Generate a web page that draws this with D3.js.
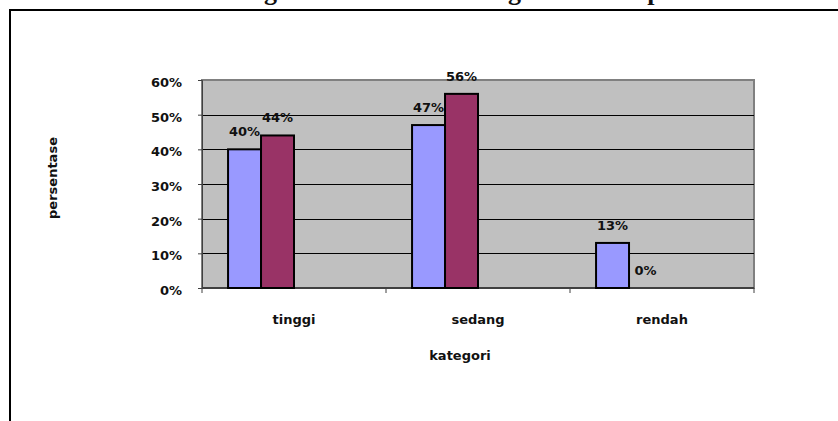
<!DOCTYPE html>
<html>
<head>
<meta charset="utf-8">
<script src="https://cdn.jsdelivr.net/npm/d3@7"></script>
<style>
  body { margin: 0; background: #fff; }
  svg { display: block; }
  text { font-family: "DejaVu Sans", sans-serif; font-weight: bold; font-size: 13px; fill: #111; }
  .title { font-family: "Liberation Serif", serif; font-size: 26px; }
</style>
</head>
<body>
<svg id="chart"></svg>
<script>
const categories = ["tinggi", "sedang", "rendah"];
const seriesA = [0.40, 0.47, 0.13];
const seriesB = [0.44, 0.56, 0.00];
const yTicks = [0, 0.1, 0.2, 0.3, 0.4, 0.5, 0.6];
const titleText = "Diagram Persentase Kategori Kemampuan";

const makeChart = () => {
    const width = 838, height = 421,
        plot = {left: 202, right: 754, top: 80, bottom: 288};

    const svg = d3.select("#chart")
        .attr("width", width)
        .attr("height", height);

    // outer chart frame, runs off the right and bottom of the picture
    svg.append("rect")
        .attr("x", 10).attr("y", 10)
        .attr("width", 1000).attr("height", 1000)
        .attr("fill", "none")
        .attr("stroke", "#000")
        .attr("stroke-width", 2);

    // title sits above the crop, only the descenders show
    svg.append("text")
        .attr("class", "title")
        .attr("x", 225)
        .attr("y", -0.5)
        .text(titleText);

    const y = d3.scaleLinear()
        .domain([0, 0.6])
        .range([plot.bottom, plot.top]);

    const x0 = d3.scaleBand()
        .domain(categories)
        .range([plot.left, plot.right]);

    // excel left room for four series per group, only two are filled
    const x1 = d3.scaleBand()
        .domain(d3.range(4))
        .range([0, x0.bandwidth()])
        .paddingOuter(0.79);

    svg.append("rect")
        .attr("x", plot.left)
        .attr("y", plot.top)
        .attr("width", plot.right - plot.left)
        .attr("height", plot.bottom - plot.top)
        .attr("fill", "#c0c0c0")
        .attr("stroke", "#808080")
        .attr("stroke-width", 2);

    svg.append("g")
        .selectAll("line")
        .data(yTicks.filter(d => d > 0 && d < 0.6))
        .enter().append("line")
            .attr("x1", plot.left)
            .attr("x2", plot.right)
            .attr("y1", d => Math.round(y(d)) + 0.5)
            .attr("y2", d => Math.round(y(d)) + 0.5)
            .attr("stroke", "#000")
            .attr("stroke-width", 1);

    const yAxis = svg.append("g")
        .attr("transform", `translate(${plot.left}, 0)`)
        .call(d3.axisLeft(y)
            .tickValues(yTicks)
            .tickSize(4)
            .tickPadding(16)
            .tickFormat(d3.format(".0%")));
    yAxis.select(".domain").attr("stroke", "#404040");
    yAxis.selectAll(".tick line").attr("stroke", "#404040");
    yAxis.selectAll(".tick text")
        .attr("dy", "0.5em")
        .style("font-family", null)
        .style("font-size", null)
        .attr("font-family", null)
        .attr("font-size", null);
    yAxis.attr("font-family", null).attr("font-size", null);

    // category axis: baseline plus ticks on the band edges
    svg.append("line")
        .attr("x1", plot.left).attr("x2", plot.right)
        .attr("y1", plot.bottom).attr("y2", plot.bottom)
        .attr("stroke", "#404040")
        .attr("stroke-width", 2);

    const edges = categories.map(c => x0(c)).concat([x0.range()[1]]);
    svg.append("g")
        .selectAll("line")
        .data(edges)
        .enter().append("line")
            .attr("x1", d => d).attr("x2", d => d)
            .attr("y1", plot.bottom).attr("y2", plot.bottom + 5)
            .attr("stroke", "#404040");

    svg.append("g")
        .selectAll("text")
        .data(categories)
        .enter().append("text")
            .attr("x", d => x0(d) + x0.bandwidth() / 2)
            .attr("y", 324)
            .attr("text-anchor", "middle")
            .text(d => d);

    const series = [
        {values: seriesA, color: "#9999ff"},
        {values: seriesB, color: "#993366"}
    ];

    series.forEach((s, si) => {
        const rows = categories.map((c, i) => ({c, v: s.values[i]}));

        svg.append("g")
            .selectAll("rect")
            .data(rows.filter(d => d.v > 0))
            .enter().append("rect")
                .attr("x", d => x0(d.c) + x1(si))
                .attr("y", d => y(d.v))
                .attr("width", x1.bandwidth())
                .attr("height", d => y(0) - y(d.v))
                .attr("fill", s.color)
                .attr("stroke", "#000")
                .attr("stroke-width", 2);

        svg.append("g")
            .selectAll("text")
            .data(rows)
            .enter().append("text")
                .attr("x", d => x0(d.c) + x1(si) + x1.bandwidth() / 2)
                .attr("y", d => y(d.v) - 13)
                .attr("text-anchor", "middle")
                .text(d => d3.format(".0%")(d.v));
    });

    // axis titles
    svg.append("text")
        .attr("x", 460)
        .attr("y", 360)
        .attr("text-anchor", "middle")
        .text("kategori");

    svg.append("text")
        .attr("transform", "translate(57, 178) rotate(-90)")
        .attr("text-anchor", "middle")
        .text("persentase");
};

makeChart();
</script>
</body>
</html>
